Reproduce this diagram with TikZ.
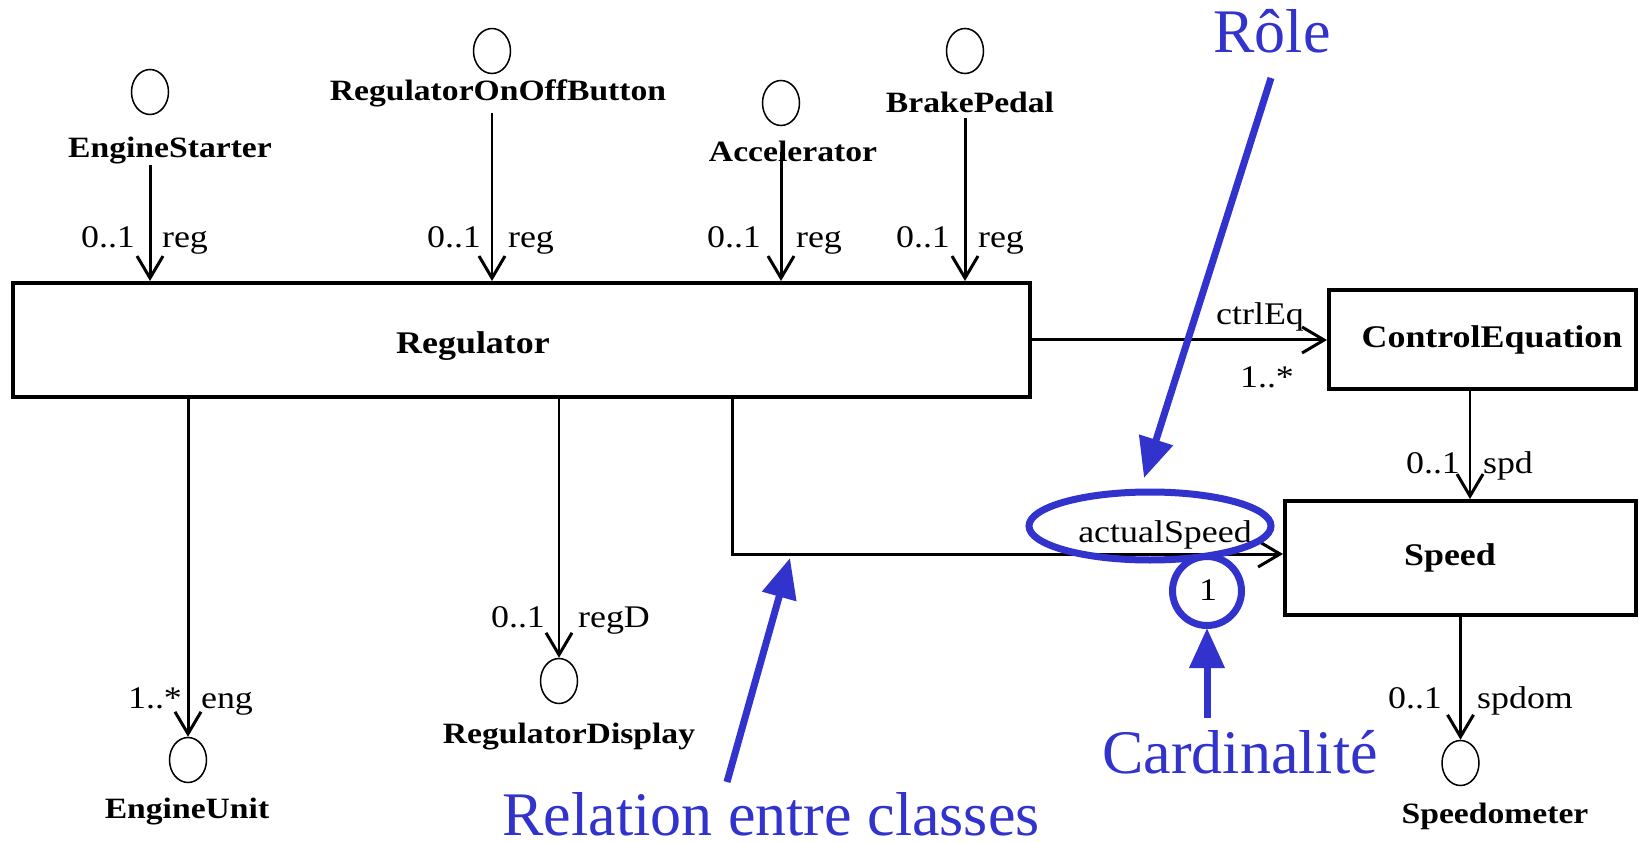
\documentclass[tikz,border=0pt]{standalone}
\usepackage{fontspec}
\setmainfont{Liberation Serif}
\newfontfamily\umlfont[FakeStretch=1.14]{Liberation Serif}
\usetikzlibrary{arrows.meta,shapes.geometric}
\definecolor{annot}{RGB}{50,50,205}
\begin{document}
\begin{tikzpicture}[x=1pt,y=-1pt,
  iface/.style={draw, ellipse, line width=1.5pt, minimum width=37pt, minimum height=45pt, inner sep=0},
  classbox/.style={draw, rectangle, line width=4pt, inner sep=0},
  ifname/.style={inner sep=0, anchor=base, font=\umlfont\bfseries\fontsize{29.5}{32}\selectfont},
  clname/.style={inner sep=0, anchor=base, font=\umlfont\bfseries\fontsize{31.5}{34}\selectfont},
  lbl/.style={inner sep=0, anchor=base, font=\umlfont\fontsize{31.5}{34}\selectfont},
  note/.style={inner sep=0, anchor=base, text=annot, font=\fontsize{62}{68}\selectfont},
  assoc/.style={line width=3pt, -{Straight Barb[length=22pt,width=26pt,line width=3pt]}},
  thinassoc/.style={line width=1.5pt, -{Straight Barb[length=22pt,width=26pt,line width=3pt]}},
  annotring/.style={draw=annot, line width=7pt, ellipse, inner sep=0},
  annotarrow/.style={draw=annot, fill=annot, line width=7pt, -{Triangle[length=40pt,width=34pt]}},
]
\fill[white] (0,0) rectangle (1639,842);
\useasboundingbox (0,0) rectangle (1639,842);

% classes
\node[classbox, minimum width=1017.5pt, minimum height=114pt] (reg) at (521.25,340) {};
\node[clname] (regname) at (473,353) {Regulator};
\node[classbox, minimum width=307pt, minimum height=99pt] (ce) at (1482.5,339.5) {};
\node[clname] (cename) at (1492,348) {ControlEquation};
\node[classbox, minimum width=351pt, minimum height=114pt] (speed) at (1460.5,558) {};
\node[clname] (speedname) at (1450,565) {Speed};

% interfaces
\node[iface] (es) at (150,92) {};
\node[ifname] (esname) at (170,158) {EngineStarter};
\node[iface] (onoff) at (492,51) {};
\node[ifname] (onoffname) at (498,101) {RegulatorOnOffButton};
\node[iface] (acc) at (781,103) {};
\node[ifname] (accname) at (793,162) {Accelerator};
\node[iface] (bp) at (965,51) {};
\node[ifname] (bpname) at (970,113) {BrakePedal};
\node[iface] (eu) at (188,760) {};
\node[ifname] (euname) at (187,818) {EngineUnit};
\node[iface] (rd) at (559,681) {};
\node[ifname] (rdname) at (569,743) {RegulatorDisplay};
\node[iface] (sm) at (1460.5,763) {};
\node[ifname] (smname) at (1495,823) {Speedometer};

% association ends
\node[lbl] (m1) at (108,248) {0..1};   \node[lbl] (r1) at (185,248) {reg};
\node[lbl] (m2) at (454,248) {0..1};   \node[lbl] (r2) at (531,248) {reg};
\node[lbl] (m3) at (734,248) {0..1};   \node[lbl] (r3) at (819,248) {reg};
\node[lbl] (m4) at (923,248) {0..1};   \node[lbl] (r4) at (1001,248) {reg};
\node[lbl] (r5) at (1260,325) {ctrlEq}; \node[lbl] (m5) at (1267,388) {1..*};
\node[lbl] (m6) at (1433,473) {0..1};  \node[lbl] (r6) at (1508,473) {spd};
\node[lbl] (m7) at (518,627) {0..1};   \node[lbl] (r7) at (614,627) {regD};
\node[lbl] (m8) at (155,708) {1..*};   \node[lbl] (r8) at (227,708) {eng};
\node[lbl] (m9) at (1415,708) {0..1};  \node[lbl] (r9) at (1525,708) {spdom};
\node[lbl] (r10) at (1165,542) {actualSpeed};
\node[lbl] (m10) at (1208,600) {1};

% associations
\draw[assoc] (es.center |- esname.south) -- (es.center |- reg.north);
\draw[thinassoc] ([yshift=-5pt]onoff.center |- onoffname.south) -- (onoff.center |- reg.north);
\draw[assoc] (acc.center |- accname.center) -- (acc.center |- reg.north);
\draw[assoc] ([yshift=-5pt]bp.center |- bpname.south) -- (bp.center |- reg.north);
\draw[assoc] (reg.east) -- (reg.east -| ce.west);
\draw[thinassoc] ([xshift=-12.5pt]ce.south) -- ([xshift=-12.5pt]ce.south |- speed.north);
\draw[assoc] ([xshift=210.75pt]reg.south) |- ([yshift=4pt]speed.west);
\draw[assoc] (eu.center |- reg.south) -- (eu.north);
\draw[thinassoc] (rd.center |- reg.south) -- (rd.north);
\draw[assoc] (speed.south) -- (sm.north);

% annotations
\node[annotring, minimum width=242pt, minimum height=68pt] (rolering) at (1150,526) {};
\node[annotring, minimum width=69pt, minimum height=69pt] (cardring) at (1207,591) {};
\node[note] (roletxt) at (1272,53) {Rôle};
\node[note] (cardtxt) at (1240,773) {Cardinalité};
\node[note] (reltxt) at (771,835) {Relation entre classes};
\coordinate (roletail) at (1271,78);
\coordinate (roletip) at (1144,478);
\coordinate (reltail) at (727,782);
\coordinate (reltip) at (790,558);
\coordinate (cardtail) at (1207,718);
\coordinate (cardtip) at (1207,628);
\draw[annotarrow] (roletail) -- (roletip);
\draw[annotarrow] (reltail) -- (reltip);
\draw[annotarrow] (cardtail) -- (cardtip);
\end{tikzpicture}
\end{document}
